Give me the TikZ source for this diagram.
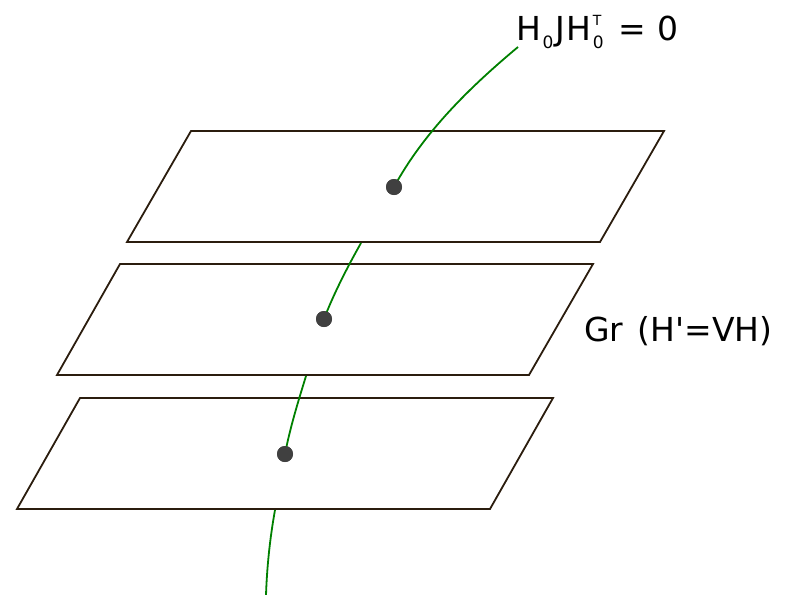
\documentclass[tikz,border=0pt]{standalone}
\usepackage{fontspec}
\setmainfont{DejaVu Sans}
\definecolor{edgebrown}{HTML}{2B1D0E}
\definecolor{dotgray}{HTML}{404040}
\definecolor{curvegreen}{HTML}{008000}
\newcommand\lowsub[1]{\raisebox{-8pt}{\fontsize{17}{17}\selectfont #1}}
\newcommand\highsup[1]{\raisebox{15pt}{\fontsize{14}{14}\selectfont #1}}
\tikzset{
  plane/.style={draw=edgebrown, line width=1.8pt, line join=miter},
  curve/.style={draw=curvegreen, line width=1.8pt},
  pt/.style={circle, fill=dotgray, inner sep=0pt, minimum size=16pt},
  lbl/.style={anchor=base west, inner sep=0pt, font=\fontsize{33}{40}\selectfont}
}
\begin{document}
\begin{tikzpicture}[x=1pt, y=-1pt]
  \useasboundingbox (0,0) rectangle (788,595);

  % the three planes
  \draw[plane] (191,131) -- (664,131) -- (600,242) -- (127,242) -- cycle;
  \draw[plane] (120,264) -- (593,264) -- (529,375) -- (57,375) -- cycle;
  \draw[plane] (80,398) -- (553,398) -- (490,509) -- (17,509) -- cycle;

  % points where the curve meets them
  \node[pt] (P1) at (394,187) {};
  \node[pt] (P2) at (324,319) {};
  \node[pt] (P3) at (285,454) {};

  % where the curve leaves the planes
  \coordinate (E1) at (361,243);
  \coordinate (E2) at (306,376);
  \coordinate (E3) at (275,510);
  \coordinate (T) at (518,47);
  \coordinate (B) at (266,595);

  \node[lbl] (eq) at (516,40) {H\kern1.5pt\lowsub{0}\kern2.5pt J\kern1ptH\kern1.5pt\rlap{\lowsub{0}}\highsup{T}\kern7pt{} = 0};
  \node[lbl] (gr) at (584,341) {Gr\kern4pt{} (H\textquotesingle=VH)};

  \draw[curve] (T) .. controls (470,87) and (424,132) .. (P1.center);
  \draw[curve] (E1) .. controls (348,266) and (334,293) .. (P2.center);
  \draw[curve] (E2) .. controls (298,402) and (290,428) .. (P3.center);
  \draw[curve] (E3) .. controls (270,538) and (267,566) .. (B);

  \node[pt] at (P1) {};
  \node[pt] at (P2) {};
  \node[pt] at (P3) {};
\end{tikzpicture}
\end{document}
